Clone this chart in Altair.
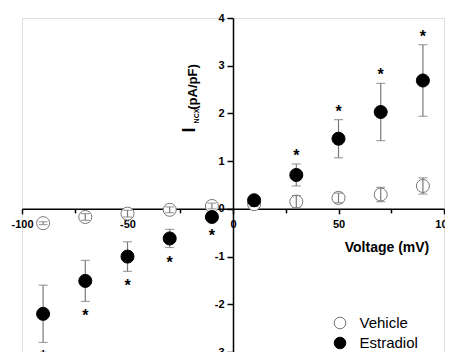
import altair as alt
import pandas as pd

# ---- data ----
voltage = [-90, -70, -50, -30, -10, 10, 30, 50, 70, 90]
vehicle_mean = [-0.30, -0.17, -0.10, -0.02, 0.06, 0.10, 0.15, 0.23, 0.30, 0.48]
vehicle_err = [0.03, 0.07, 0.07, 0.06, 0.06, 0.05, 0.13, 0.10, 0.15, 0.17]
estradiol_mean = [-2.20, -1.51, -1.00, -0.62, -0.17, 0.18, 0.71, 1.47, 2.03, 2.69]
estradiol_err = [0.60, 0.43, 0.31, 0.19, 0.08, 0.06, 0.23, 0.40, 0.60, 0.75]
significant = [1, 1, 1, 1, 1, 0, 1, 1, 1, 1]
groups = ["Vehicle", "Estradiol"]
x_ticks = list(range(-100, 101, 25))
y_ticks = [v / 2 for v in range(-6, 9)]

veh = pd.DataFrame({"v": voltage, "m": vehicle_mean, "e": vehicle_err, "group": "Vehicle", "sig": 0})
est = pd.DataFrame({"v": voltage, "m": estradiol_mean, "e": estradiol_err, "group": "Estradiol", "sig": significant})
for d in (veh, est):
    d["lo"] = d["m"] - d["e"]
    d["hi"] = d["m"] + d["e"]

PAD_L, PAD_T = 14, 10
W, H = 422, 334
XMIN, XMAX, YMIN, YMAX = -100, 100, -3, 4
x_zero = W * (0 - XMIN) / (XMAX - XMIN)
y_zero_from_bottom = H * (0 - YMIN) / (YMAX - YMIN)

FONT = "Liberation Sans"
xs = alt.Scale(domain=[XMIN, XMAX], nice=False, zero=False)
ys = alt.Scale(domain=[YMIN, YMAX], nice=False, zero=False)

xaxis = alt.Axis(
    values=x_ticks, orient="bottom", offset=-y_zero_from_bottom, title=None,
    labelExpr="datum.value % 50 != 0 ? '' : (datum.value < 0 ? '-' + abs(datum.value) : '' + datum.value)",
    tickSize={"condition": {"test": "datum.value % 50 != 0", "value": 4}, "value": 5},
    labelPadding=5, labelFont=FONT, labelFontSize=11, labelFontWeight="bold",
    labelColor="black", domainColor="black", tickColor="black",
    domainWidth=1.5, tickWidth=1.5, grid=False, labelFlush=False, labelOverlap=False,
)
yaxis = alt.Axis(
    values=y_ticks, orient="left", offset=-x_zero, title=None,
    labelExpr="datum.value % 1 != 0 ? '' : (datum.value < 0 ? '-' + abs(datum.value) : '' + datum.value)",
    tickSize={"condition": {"test": "datum.value % 1 != 0", "value": 3}, "value": 6},
    labelPadding=3, labelFont=FONT, labelFontSize=11, labelFontWeight="bold",
    labelColor="black", domainColor="black", tickColor="black",
    domainWidth=1.5, tickWidth=1.5, grid=False, labelFlush=False, labelOverlap=False,
)


def vx(px):
    return px - 8 - PAD_L


def vy(py):
    return py - 8 - PAD_T


fill_scale = alt.Scale(domain=groups, range=["white", "black"])
stroke_scale = alt.Scale(domain=groups, range=["#777777", "black"])
legend = alt.Legend(
    orient="none", legendX=vx(339) - 6.5, legendY=vy(323) - 7.5,
    title=None, symbolType="circle",
    symbolSize=135, symbolStrokeWidth=1, labelFont=FONT, labelFontSize=15,
    labelColor="black", labelOffset=12, rowPadding=3, padding=0,
)


def points(df):
    return alt.Chart(df).mark_point(filled=False, size=170, strokeWidth=1, opacity=1).encode(
        x=alt.X("v:Q", scale=xs, axis=xaxis),
        y=alt.Y("m:Q", scale=ys, axis=yaxis),
        fill=alt.Fill("group:N", scale=fill_scale, legend=legend),
        stroke=alt.Stroke("group:N", scale=stroke_scale, legend=legend),
        fillOpacity=alt.value(1),
    )


def errbars(df, color):
    rule = alt.Chart(df).mark_rule(color=color, strokeWidth=1.2).encode(
        x=alt.X("v:Q", scale=xs), y=alt.Y("lo:Q", scale=ys), y2="hi:Q")
    cap_lo = alt.Chart(df).mark_tick(color=color, orient="horizontal", size=9, thickness=1.2).encode(
        x=alt.X("v:Q", scale=xs), y=alt.Y("lo:Q", scale=ys))
    cap_hi = alt.Chart(df).mark_tick(color=color, orient="horizontal", size=9, thickness=1.2).encode(
        x=alt.X("v:Q", scale=xs), y=alt.Y("hi:Q", scale=ys))
    return rule + cap_lo + cap_hi


star_base = alt.Chart(est).transform_filter("datum.sig == 1")
stars_up = star_base.transform_filter("datum.m > 0").mark_text(
    text="*", font=FONT, fontSize=16, fontWeight="bold", color="black", baseline="middle", dy=-8
).encode(x=alt.X("v:Q", scale=xs), y=alt.Y("hi:Q", scale=ys))
stars_dn = star_base.transform_filter("datum.m < 0").mark_text(
    text="*", font=FONT, fontSize=16, fontWeight="bold", color="black", baseline="middle", dy=15
).encode(x=alt.X("v:Q", scale=xs), y=alt.Y("lo:Q", scale=ys))

# y-axis title with subscript, and x-axis title
anchor = alt.Chart(pd.DataFrame({"a": [0]}))
t_I = anchor.mark_text(text="I", font=FONT, fontSize=18, fontWeight="bold", angle=270,
                       align="center", baseline="middle", color="black").encode(
    x=alt.value(vx(190)), y=alt.value(vy(130)))
t_ncx = anchor.mark_text(text="NCX", font=FONT, fontSize=7, fontWeight="bold", angle=270,
                         align="center", baseline="middle", color="black").encode(
    x=alt.value(vx(197)), y=alt.value(vy(116)))
t_unit = anchor.mark_text(text="(pA/pF)", font=FONT, fontSize=13, fontWeight="bold", angle=270,
                          align="center", baseline="middle", color="black").encode(
    x=alt.value(vx(193)), y=alt.value(vy(87)))
t_x = anchor.mark_text(text="Voltage (mV)", font=FONT, fontSize=14, fontWeight="bold",
                       align="center", baseline="middle", color="black").encode(
    x=alt.value(vx(387)), y=alt.value(vy(248)))

chart = alt.layer(
    points(veh),
    errbars(veh, "#7a7a7a"),
    errbars(est, "#7a7a7a"),
    points(est),
    stars_up, stars_dn,
    t_I, t_ncx, t_unit, t_x,
).properties(
    width=W, height=H,
    autosize=alt.AutoSizeParams(type="none"),
    padding={"left": PAD_L, "top": PAD_T, "right": 1, "bottom": 0},
).configure_view(stroke=None).configure(background="white")

chart.save("out.html", embed_options={"renderer": "svg", "actions": False})
